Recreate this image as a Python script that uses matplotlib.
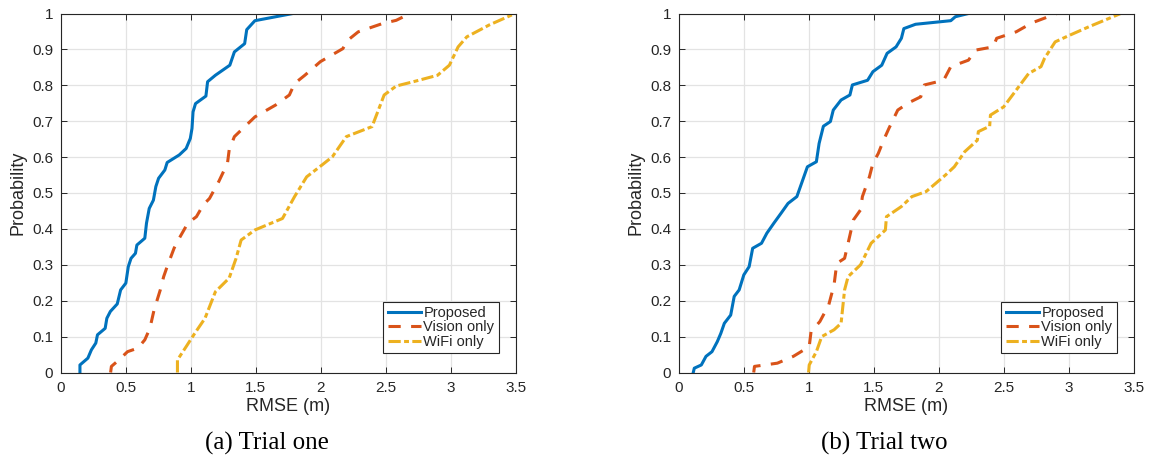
import matplotlib.pyplot as plt

# CDF samples of RMSE (m) for each method, two trials

# Trial one
t1_prop_x = [0.148, 0.148, 0.209, 0.236, 0.27, 0.283, 0.342, 0.355, 0.382, 0.435, 0.461, 0.501,
             0.52, 0.541, 0.575, 0.586, 0.647, 0.66, 0.681, 0.713, 0.732, 0.753, 0.801, 0.819,
             0.912, 0.965, 0.997, 1.01, 1.018, 1.037, 1.117, 1.13, 1.19, 1.301, 1.336, 1.415,
             1.431, 1.494, 1.786]
t1_prop_y = [0.0, 0.021, 0.04, 0.063, 0.082, 0.105, 0.123, 0.151, 0.17, 0.191, 0.23, 0.249,
             0.295, 0.318, 0.332, 0.355, 0.374, 0.416, 0.457, 0.48, 0.518, 0.541, 0.564, 0.585,
             0.606, 0.624, 0.652, 0.68, 0.726, 0.749, 0.77, 0.81, 0.828, 0.856, 0.893, 0.916,
             0.955, 0.98, 1.0]

t1_vis_x = [0.384, 0.39, 0.448, 0.514, 0.594, 0.647, 0.686, 0.718, 0.766, 0.792, 0.819, 0.872,
            0.912, 0.978, 1.044, 1.097, 1.145, 1.216, 1.283, 1.296, 1.336, 1.494, 1.653, 1.759,
            1.799, 1.878, 1.998, 2.17, 2.21, 2.289, 2.475, 2.581, 2.687]
t1_vis_y = [0.0, 0.017, 0.035, 0.058, 0.068, 0.091, 0.123, 0.174, 0.23, 0.267, 0.295, 0.346,
            0.374, 0.416, 0.434, 0.467, 0.485, 0.532, 0.583, 0.62, 0.657, 0.712, 0.745, 0.773,
            0.805, 0.828, 0.866, 0.902, 0.926, 0.949, 0.972, 0.981, 1.0]

t1_wifi_x = [0.898, 0.898, 0.965, 1.031, 1.11, 1.19, 1.296, 1.349, 1.388, 1.494, 1.706, 1.799,
             1.892, 2.01, 2.09, 2.197, 2.395, 2.488, 2.581, 2.713, 2.899, 2.99, 3.057, 3.124,
             3.296, 3.495]
t1_wifi_y = [0.0, 0.035, 0.072, 0.109, 0.151, 0.225, 0.263, 0.318, 0.369, 0.397, 0.429, 0.49,
             0.545, 0.578, 0.601, 0.657, 0.685, 0.773, 0.798, 0.81, 0.828, 0.856, 0.907, 0.935,
             0.968, 1.0]

# Trial two
t2_prop_x = [0.112, 0.12, 0.174, 0.21, 0.256, 0.297, 0.324, 0.351, 0.4, 0.427, 0.465, 0.501,
             0.542, 0.569, 0.637, 0.678, 0.732, 0.786, 0.841, 0.909, 0.95, 0.99, 1.059, 1.08,
             1.113, 1.167, 1.189, 1.249, 1.317, 1.336, 1.453, 1.494, 1.562, 1.603, 1.672, 1.713,
             1.732, 1.822, 2.093, 2.128, 2.229]
t2_prop_y = [0.0, 0.012, 0.021, 0.045, 0.058, 0.086, 0.109, 0.137, 0.16, 0.212, 0.23, 0.272,
             0.295, 0.346, 0.36, 0.388, 0.416, 0.443, 0.471, 0.49, 0.532, 0.573, 0.587, 0.638,
             0.686, 0.699, 0.731, 0.759, 0.773, 0.801, 0.814, 0.838, 0.856, 0.889, 0.907, 0.931,
             0.958, 0.97, 0.98, 0.991, 1.0]

t2_vis_x = [0.577, 0.583, 0.759, 0.882, 1.004, 1.018, 1.086, 1.154, 1.195, 1.216, 1.276, 1.303,
            1.344, 1.399, 1.413, 1.467, 1.494, 1.535, 1.576, 1.617, 1.685, 1.767, 1.862, 1.89,
            2.038, 2.093, 2.229, 2.283, 2.419, 2.446, 2.596, 2.718, 2.909]
t2_vis_y = [0.0, 0.017, 0.026, 0.045, 0.072, 0.114, 0.142, 0.188, 0.244, 0.304, 0.318, 0.36,
            0.425, 0.453, 0.49, 0.545, 0.583, 0.61, 0.647, 0.68, 0.731, 0.751, 0.768, 0.801,
            0.814, 0.852, 0.87, 0.898, 0.907, 0.931, 0.949, 0.974, 1.0]

t2_wifi_x = [0.999, 1.004, 1.059, 1.1, 1.195, 1.249, 1.276, 1.303, 1.399, 1.48, 1.59, 1.598,
             1.712, 1.794, 1.903, 2.052, 2.12, 2.2, 2.297, 2.305, 2.392, 2.398, 2.5, 2.597,
             2.692, 2.787, 2.814, 2.896, 2.992, 3.155, 3.4]
t2_wifi_y = [0.0, 0.021, 0.058, 0.1, 0.119, 0.137, 0.23, 0.267, 0.3, 0.36, 0.397, 0.434,
             0.462, 0.49, 0.504, 0.55, 0.573, 0.615, 0.647, 0.671, 0.686, 0.717, 0.74, 0.787,
             0.833, 0.852, 0.875, 0.921, 0.937, 0.963, 1.0]

labels = ['Proposed', 'Vision only', 'WiFi only']
captions = ['(a) Trial one', '(b) Trial two']
xticks = [0, 0.5, 1, 1.5, 2, 2.5, 3, 3.5]
yticks = [0, 0.1, 0.2, 0.3, 0.4, 0.5, 0.6, 0.7, 0.8, 0.9, 1]

blue = '#0072BD'
orange = '#D95319'
yellow = '#EDB120'
dark = '#262626'

plt.rcParams['font.family'] = ['Liberation Sans', 'DejaVu Sans']

fig = plt.figure(figsize=(11.55, 4.59), dpi=100)
W, H = 1155.0, 459.0


def make_axes(x0, x1, y0=13.5, y1=372.5):
    return fig.add_axes([x0 / W, 1 - y1 / H, (x1 - x0) / W, (y1 - y0) / H])


ax1 = make_axes(60.7, 515.7)
ax2 = make_axes(678.7, 1133.7)

trials = [
    (ax1, (t1_prop_x, t1_prop_y), (t1_vis_x, t1_vis_y), (t1_wifi_x, t1_wifi_y)),
    (ax2, (t2_prop_x, t2_prop_y), (t2_vis_x, t2_vis_y), (t2_wifi_x, t2_wifi_y)),
]

for i, (ax, prop, vis, wifi) in enumerate(trials):
    ax.plot(prop[0], prop[1], color=blue, lw=2.2, label=labels[0], solid_joinstyle='round')
    ax.plot(vis[0], vis[1], color=orange, lw=2.2, dashes=(4, 3.4), label=labels[1])
    ax.plot(wifi[0], wifi[1], color=yellow, lw=2.2, dashes=(4, 1.1, 1.6, 1.1), label=labels[2])

    ax.set_xlim(0, 3.5)
    ax.set_ylim(0, 1)
    ax.set_xticks(xticks)
    ax.set_xticklabels(['0', '0.5', '1', '1.5', '2', '2.5', '3', '3.5'])
    ax.set_yticks(yticks)
    ax.set_yticklabels(['0', '0.1', '0.2', '0.3', '0.4', '0.5', '0.6', '0.7', '0.8', '0.9', '1'])
    ax.grid(True, color='#e3e3e3', lw=0.9)
    ax.set_axisbelow(True)
    ax.tick_params(direction='in', top=True, right=True, labelsize=11, length=4, width=0.7,
                   colors=dark, labelcolor=dark)
    ax.tick_params(axis='x', pad=6)
    ax.tick_params(axis='y', pad=5.5)
    for s in ax.spines.values():
        s.set_linewidth(0.8)
        s.set_color(dark)
    ax.set_xlabel('RMSE (m)', fontsize=13, labelpad=2.5, color=dark)
    ax.set_ylabel('Probability', fontsize=13, labelpad=4, color=dark)

    leg = ax.legend(loc='lower right', fontsize=10.5, frameon=True, fancybox=False,
                    edgecolor=dark, framealpha=1, handlelength=2.3, handletextpad=0.15,
                    borderpad=0.3, labelspacing=0.02, borderaxespad=0.0,
                    bbox_to_anchor=(0.963, 0.054))
    leg.get_frame().set_linewidth(0.8)
    for t in leg.get_texts():
        t.set_color(dark)

fig.text(266.7 / W, 1 - 443 / H, captions[0], ha='center', va='center', fontsize=18,
         family=['Liberation Serif', 'DejaVu Serif'])
fig.text(884.7 / W, 1 - 443 / H, captions[1], ha='center', va='center', fontsize=18,
         family=['Liberation Serif', 'DejaVu Serif'])

fig.savefig('out.png', dpi=100)
